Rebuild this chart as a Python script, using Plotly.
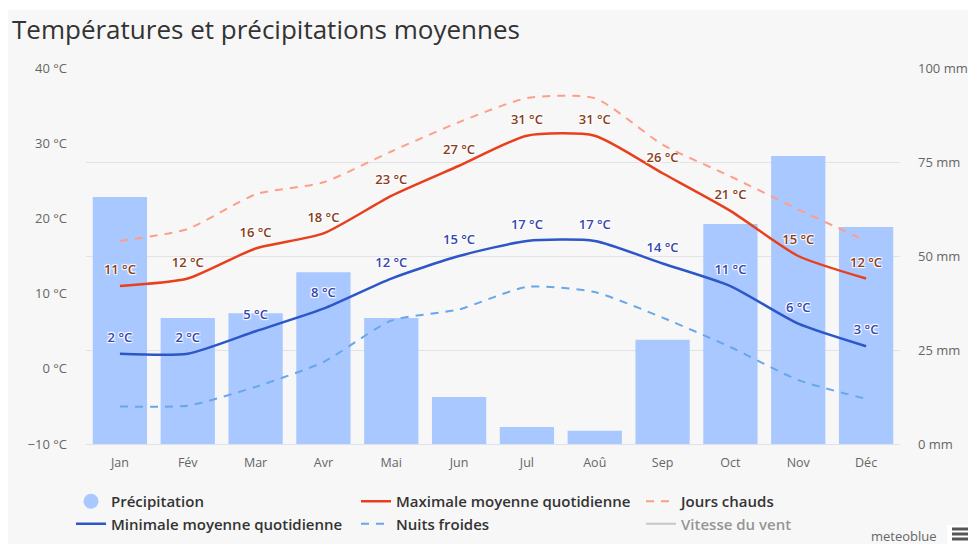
import plotly.graph_objects as go

# monthly climate values
months = ["Jan", "Fév", "Mar", "Avr", "Mai", "Jun", "Jul", "Aoû", "Sep", "Oct", "Nov", "Déc"]
precip_mm = [65.7, 33.5, 34.8, 45.7, 33.5, 12.5, 4.5, 3.5, 27.7, 58.5, 76.6, 57.7]
temp_max = [11, 12, 16, 18, 23, 27, 31, 31, 26, 21, 15, 12]
temp_min = [2, 2, 5, 8, 12, 15, 17, 17, 14, 11, 6, 3]
hot_days = [17.0, 18.6, 23.2, 24.8, 28.9, 32.8, 36.0, 36.0, 29.8, 25.6, 21.2, 17.0]
cold_nights = [-5.0, -4.9, -2.4, 0.9, 6.4, 7.9, 10.9, 10.2, 6.8, 2.9, -1.5, -4.0]
mm_ticks = [0, 25, 50, 75, 100]

# the page body adds an 8px margin, so the figure sits 8px right/down in the window
OFF = 8
W, H = 976, 544
ML, MR, MT, MB = 78, 84, 60, 108
PW, PH = W - ML - MR, H - MT - MB


def px(x):
    # window pixel -> paper x
    return (x - OFF - ML) / PW


def py(y):
    # window pixel -> paper y
    return (H - MB - (y - OFF)) / PH


FONT = "Open Sans"
halo = "1px 1px 1px #fff, -1px -1px 1px #fff, 1px -1px 1px #fff, -1px 1px 1px #fff"
no_marker = dict(size=12, color="rgba(0,0,0,0)")
SMOOTH = 0.6

fig = go.Figure()

fig.add_trace(go.Bar(
    x=months, y=precip_mm, name="Précipitation", legendgroup="p",
    marker=dict(color="#a9c8ff", line=dict(width=0)),
    showlegend=False, yaxis="y", hoverinfo="y",
))
fig.add_trace(go.Scatter(
    x=[None], y=[None], name="Précipitation", legendgroup="p", mode="markers",
    marker=dict(symbol="circle", size=15, color="#a9c8ff"), yaxis="y2",
))
fig.add_trace(go.Scatter(
    x=months, y=temp_max, name="Maximale moyenne quotidienne", yaxis="y2",
    mode="lines+markers+text", marker=no_marker,
    line=dict(color="#e8401c", width=2.5, shape="spline", smoothing=SMOOTH),
    text=[f"{v} °C" for v in temp_max], textposition="top center",
    textfont=dict(color="#8a3d1c", size=13, family=FONT, weight=600, shadow=halo),
))
fig.add_trace(go.Scatter(
    x=months, y=hot_days, name="Jours chauds", yaxis="y2", mode="lines",
    line=dict(color="#ff9e88", width=2, dash="8px,7px", shape="spline", smoothing=SMOOTH),
))
fig.add_trace(go.Scatter(
    x=months, y=temp_min, name="Minimale moyenne quotidienne", yaxis="y2",
    mode="lines+markers+text", marker=no_marker,
    line=dict(color="#2d56c8", width=2.5, shape="spline", smoothing=SMOOTH),
    text=[f"{v} °C" for v in temp_min], textposition="top center",
    textfont=dict(color="#3547b0", size=13, family=FONT, weight=600, shadow=halo),
))
fig.add_trace(go.Scatter(
    x=months, y=cold_nights, name="Nuits froides", yaxis="y2", mode="lines",
    line=dict(color="#6aa6ea", width=2, dash="8px,7px", shape="spline", smoothing=SMOOTH),
))
fig.add_trace(go.Scatter(
    x=[None], y=[None], name="Vitesse du vent", yaxis="y2", mode="lines",
    line=dict(color="#999999", width=2), visible="legendonly",
))

shapes = [
    # thin white strip above the grey card
    dict(type="rect", xref="paper", yref="paper", layer="below",
         x0=px(0), x1=px(990), y0=py(10), y1=py(0),
         fillcolor="#ffffff", line=dict(width=0)),
    # menu button
    dict(type="rect", xref="paper", yref="paper", x0=px(947), x1=px(990),
         y0=py(560), y1=py(525), fillcolor="#ffffff", line=dict(width=0)),
]
for yy in (529, 534, 539):
    shapes.append(dict(type="line", xref="paper", yref="paper",
                       x0=px(952), x1=px(972), y0=py(yy), y1=py(yy),
                       line=dict(color="#555555", width=3)))

fig.update_layout(
    width=W, height=H,
    margin=dict(l=ML, r=MR, t=MT, b=MB, autoexpand=False),
    paper_bgcolor="#f7f7f7", plot_bgcolor="rgba(0,0,0,0)",
    font=dict(family=FONT, color="#666666", size=12),
    title=dict(text="Températures et précipitations moyennes", x=4 / W, xanchor="left",
               xref="container", y=1 - 22 / H, yanchor="middle", yref="container",
               font=dict(size=26, color="#333333", family=FONT)),
    bargap=0.2,
    xaxis=dict(range=[-0.5, 11.5], showgrid=False, showline=True, linecolor="#dde1e8",
               linewidth=1, ticks="", ticklabelstandoff=7,
               tickfont=dict(size=12.5, color="#666666")),
    yaxis=dict(range=[0, 100], tickvals=mm_ticks, ticktext=[f"{v} mm" for v in mm_ticks],
               side="right", showgrid=True, gridcolor="#e3e3e3", zeroline=False,
               ticklabelstandoff=17, tickfont=dict(size=13, color="#666666")),
    yaxis2=dict(range=[-10, 40], dtick=10, ticksuffix=" °C", overlaying="y",
                side="left", showgrid=False, zeroline=False, ticklabelstandoff=18,
                tickfont=dict(size=13, color="#666666")),
    legend=dict(orientation="h", x=px(71), xanchor="left", y=py(485), yanchor="top",
                entrywidth=240, entrywidthmode="pixels", traceorder="normal",
                font=dict(size=15, color="#333333", family=FONT, weight=600),
                bgcolor="rgba(0,0,0,0)", tracegroupgap=0),
    shapes=shapes,
    annotations=[dict(text="meteoblue", xref="paper", yref="paper", x=px(939),
                      y=py(536), xanchor="right", yanchor="middle", showarrow=False,
                      font=dict(size=13, color="#666666", family=FONT))],
    showlegend=True,
)

fig.write_html("out.html")
